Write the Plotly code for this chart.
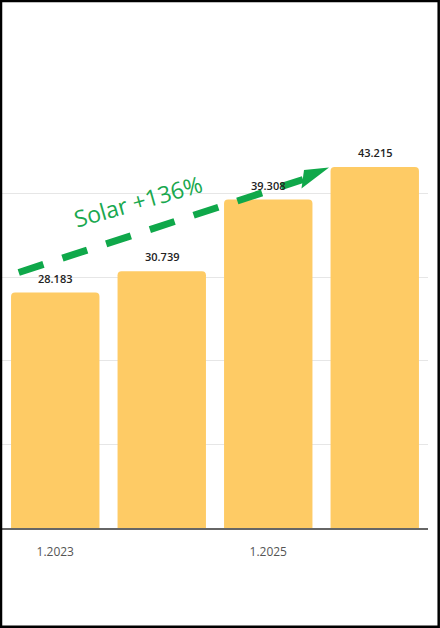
import plotly.graph_objects as go

# ---- data ----
categories = ["1.2023", "1.2024", "1.2025", "1.2026"]
values = [28.183, 30.739, 39.308, 43.215]
value_labels = ["28.183", "30.739", "39.308", "43.215"]
tick_vals = ["1.2023", "1.2025"]
tick_text = ["1.2023", "1.2025"]
annotation_text = "Solar +136%"

# ---- layout geometry (pixels) ----
W, H = 440, 628
ML, MR, MT, MB = 2, 12, 127, 100
PW = W - ML - MR
PH = H - MT - MB
Y_MAX = 48.0
X_MIN, X_MAX = -0.5, 3.5

def px2x(px):
    return X_MIN + (px - ML) / PW * (X_MAX - X_MIN)

def py2y(py):
    return (H - MB - py) / PH * Y_MAX

def px2paper(px):
    return (px - ML) / PW

def py2paper(py):
    return (H - MB - py) / PH

GREEN = "#0FA84A"
BAR = "#FECB65"

fig = go.Figure()
fig.add_trace(go.Bar(
    x=categories, y=values,
    marker=dict(color=BAR, line=dict(width=0)),
    hoverinfo="skip",
))

annotations = []
for i, (v, t) in enumerate(zip(values, value_labels)):
    annotations.append(dict(
        x=i, y=v, xref="x", yref="y", text=t, showarrow=False,
        yanchor="middle", yshift=14.5,
        font=dict(family="Open Sans", size=11, color="#222222", weight=600),
    ))

annotations.append(dict(
    x=px2x(138), y=py2y(201), xref="x", yref="y", text=annotation_text,
    showarrow=False, textangle=-16,
    font=dict(family="Open Sans", size=23, color="#19A84F"),
))

shapes = [
    # dashed shaft
    dict(type="line", xref="x", yref="y",
         x0=px2x(-25), y0=py2y(286.8), x1=px2x(303), y1=py2y(179.5),
         line=dict(color=GREEN, width=7, dash="26px,20px"), layer="above"),
    # arrow head
    dict(type="path", xref="x", yref="y",
         path=f"M {px2x(329)} {py2y(167.5)} L {px2x(304)} {py2y(170)} L {px2x(301.5)} {py2y(188.5)} Z",
         fillcolor=GREEN, line=dict(width=0), layer="above"),
    # outer border
    dict(type="rect", xref="paper", yref="paper",
         x0=px2paper(1), x1=px2paper(438.7), y0=py2paper(626.8), y1=py2paper(1),
         line=dict(color="#000000", width=2.5), fillcolor="rgba(0,0,0,0)"),
]

fig.update_layout(
    width=W, height=H,
    margin=dict(l=ML, r=MR, t=MT, b=MB, pad=0),
    paper_bgcolor="white", plot_bgcolor="white",
    showlegend=False,
    bargap=0.17,
    barcornerradius=4,
    annotations=annotations,
    shapes=shapes,
    xaxis=dict(
        type="category", range=[X_MIN, X_MAX],
        tickmode="array", tickvals=tick_vals, ticktext=tick_text,
        showgrid=False, showline=True, linecolor="#666666", linewidth=1.5,
        ticks="outside", ticklen=12, tickcolor="rgba(0,0,0,0)",
        tickfont=dict(family="Open Sans", size=12, color="#555555"),
        fixedrange=True,
    ),
    yaxis=dict(
        range=[0, Y_MAX], dtick=10, tick0=0,
        showgrid=True, gridcolor="#E6E6E6", gridwidth=1,
        zeroline=False, showticklabels=False, showline=False,
        fixedrange=True,
    ),
)

fig.write_html("out.html", config={"displayModeBar": False})
